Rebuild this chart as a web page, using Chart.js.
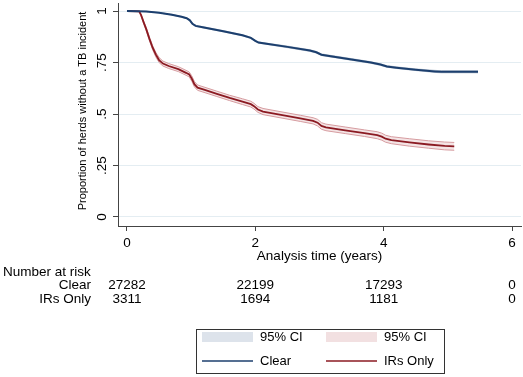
<!DOCTYPE html>
<html>
<head>
<meta charset="utf-8">
<script src="https://cdn.jsdelivr.net/npm/chart.js@4/dist/chart.umd.min.js"></script>
<style>
  html, body { margin: 0; padding: 0; background: #fff; }
  canvas { display: block; }
</style>
</head>
<body>
<canvas id="kmChart" width="523" height="377"></canvas>
<script>
// Kaplan-Meier estimates
const clearTime = [0, 0.3, 0.5, 0.7, 0.85, 0.93, 0.98, 1.02, 1.07, 1.2, 1.5, 1.8, 1.93, 2.0, 2.05, 2.2, 2.5, 2.85, 2.95, 3.03, 3.15, 3.5, 3.8, 3.95, 4.05, 4.2, 4.5, 4.8, 4.9, 5.47];
const clearSurv = [1, 0.998, 0.992, 0.982, 0.972, 0.965, 0.955, 0.938, 0.928, 0.92, 0.902, 0.882, 0.87, 0.855, 0.847, 0.84, 0.826, 0.808, 0.8, 0.788, 0.782, 0.765, 0.75, 0.74, 0.731, 0.725, 0.715, 0.707, 0.705, 0.705];
const clearHi = [1, 0.999, 0.993, 0.984, 0.974, 0.967, 0.958, 0.941, 0.931, 0.923, 0.905, 0.885, 0.873, 0.858, 0.85, 0.843, 0.83, 0.812, 0.804, 0.792, 0.786, 0.769, 0.754, 0.744, 0.735, 0.729, 0.719, 0.712, 0.71, 0.71];
const clearLo = [1, 0.997, 0.991, 0.98, 0.97, 0.963, 0.952, 0.935, 0.925, 0.917, 0.899, 0.879, 0.867, 0.852, 0.844, 0.837, 0.822, 0.804, 0.796, 0.784, 0.778, 0.761, 0.746, 0.736, 0.727, 0.721, 0.711, 0.702, 0.7, 0.7];

const irTime = [0, 0.19, 0.22, 0.26, 0.3, 0.35, 0.4, 0.45, 0.5, 0.56, 0.65, 0.8, 0.92, 0.97, 1.01, 1.05, 1.1, 1.2, 1.4, 1.6, 1.8, 1.93, 1.98, 2.04, 2.12, 2.4, 2.7, 2.9, 2.97, 3.03, 3.1, 3.4, 3.7, 3.9, 3.97, 4.03, 4.12, 4.4, 4.7, 4.95, 5.1];
const irSurv = [1, 0.998, 0.98, 0.945, 0.912, 0.865, 0.822, 0.788, 0.762, 0.745, 0.733, 0.718, 0.7, 0.692, 0.672, 0.645, 0.628, 0.618, 0.598, 0.578, 0.56, 0.548, 0.538, 0.522, 0.512, 0.496, 0.479, 0.467, 0.458, 0.442, 0.435, 0.421, 0.407, 0.397, 0.39, 0.38, 0.373, 0.362, 0.352, 0.345, 0.343];
const irHi = [1, 0.998, 0.984, 0.951, 0.92, 0.874, 0.832, 0.799, 0.774, 0.757, 0.745, 0.73, 0.712, 0.704, 0.685, 0.658, 0.641, 0.631, 0.611, 0.591, 0.574, 0.562, 0.552, 0.536, 0.527, 0.511, 0.494, 0.482, 0.474, 0.458, 0.451, 0.437, 0.423, 0.414, 0.407, 0.397, 0.39, 0.38, 0.37, 0.364, 0.362];
const irLo = [1, 0.998, 0.976, 0.939, 0.904, 0.856, 0.812, 0.777, 0.75, 0.733, 0.721, 0.706, 0.688, 0.68, 0.659, 0.632, 0.615, 0.605, 0.585, 0.565, 0.546, 0.534, 0.524, 0.508, 0.497, 0.481, 0.464, 0.452, 0.442, 0.426, 0.419, 0.405, 0.391, 0.38, 0.373, 0.363, 0.356, 0.344, 0.334, 0.326, 0.324];

// axis ticks
const xTicks = [0, 2, 4, 6];
const yTicks = [0, 0.25, 0.5, 0.75, 1];
const yTickLabels = ['0', '.25', '.5', '.75', '1'];

// number at risk table
const riskTimes = [0, 2, 4, 6];
const riskGroups = ['Clear', 'IRs Only'];
const riskClear = [27282, 22199, 17293, 0];
const riskIR = [3311, 1694, 1181, 0];

const legendLabels = ['95% CI', '95% CI', 'Clear', 'IRs Only'];

const FONT = '"Liberation Sans", Arial, sans-serif';
const NAVY = '#1c3f6e';
const MAROON = '#8b1a22';

const pts = (xs, ys) => xs.map((x, i) => ({ x: x, y: ys[i] }));

// draws tick labels, titles, risk table and legend
const stataText = {
    id: 'stataText',
    afterDraw(chart) {
        const ctx = chart.ctx;
        const xs = chart.scales.x;
        const ys = chart.scales.y;
        const area = chart.chartArea;
        ctx.save();
        ctx.fillStyle = '#000';

        // y tick labels, rotated
        ctx.font = '13.5px ' + FONT;
        ctx.textAlign = 'center';
        ctx.textBaseline = 'middle';
        yTicks.forEach((v, i) => {
            ctx.save();
            ctx.translate(102, ys.getPixelForValue(v));
            ctx.rotate(-Math.PI / 2);
            ctx.fillText(yTickLabels[i], 0, 0);
            ctx.restore();
        });

        // y title
        ctx.save();
        ctx.font = '11px ' + FONT;
        ctx.translate(83, 111);
        ctx.rotate(-Math.PI / 2);
        ctx.fillText('Proportion of herds without a TB incident', 0, 0);
        ctx.restore();

        // x tick labels + title
        ctx.font = '13.5px ' + FONT;
        xTicks.forEach(v => ctx.fillText(String(v), xs.getPixelForValue(v), 243));
        ctx.fillText('Analysis time (years)', (area.left + area.right) / 2, 256);

        // number at risk
        ctx.textAlign = 'left';
        ctx.fillText('Number at risk', 3, 272);
        const rows = [riskClear, riskIR];
        rows.forEach((row, r) => {
            const y = 285 + r * 14;
            ctx.textAlign = 'right';
            ctx.fillText(riskGroups[r], 91, y);
            ctx.textAlign = 'center';
            row.forEach((n, i) => ctx.fillText(String(n), xs.getPixelForValue(riskTimes[i]), y));
        });

        // legend box
        ctx.strokeStyle = '#333';
        ctx.lineWidth = 1;
        ctx.strokeRect(196.5, 329.5, 248, 44);
        ctx.fillStyle = '#dde3eb';
        ctx.fillRect(202, 332, 51, 10);
        ctx.fillStyle = '#f2e0e1';
        ctx.fillRect(326, 332, 51, 10);
        ctx.lineWidth = 1.5;
        ctx.strokeStyle = NAVY;
        ctx.beginPath(); ctx.moveTo(202, 361); ctx.lineTo(253, 361); ctx.stroke();
        ctx.strokeStyle = MAROON;
        ctx.beginPath(); ctx.moveTo(326, 361); ctx.lineTo(377, 361); ctx.stroke();
        ctx.fillStyle = '#000';
        ctx.font = '13px ' + FONT;
        ctx.textAlign = 'left';
        ctx.fillText(legendLabels[0], 260, 337);
        ctx.fillText(legendLabels[1], 384, 337);
        ctx.fillText(legendLabels[2], 260, 361);
        ctx.fillText(legendLabels[3], 384, 361);

        ctx.restore();
    }
};

const ctx = document.getElementById('kmChart').getContext('2d');
const myChart = new Chart(ctx, {
    type: 'line',
    data: {
        datasets: [
            { data: pts(clearTime, clearHi), borderColor: '#a9b7c8', borderWidth: 0.8, pointRadius: 0, fill: false, order: 1 },
            { data: pts(clearTime, clearLo), borderColor: '#a9b7c8', borderWidth: 0.8, pointRadius: 0, fill: '-1', backgroundColor: '#d3dbe5', order: 1 },
            { data: pts(irTime, irHi), borderColor: '#d69ca0', borderWidth: 1, pointRadius: 0, fill: false, order: 1 },
            { data: pts(irTime, irLo), borderColor: '#d69ca0', borderWidth: 1, pointRadius: 0, fill: '-1', backgroundColor: '#f4e4e5', order: 1 },
            { data: pts(clearTime, clearSurv), borderColor: NAVY, borderWidth: 2, pointRadius: 0, fill: false, order: 0 },
            { data: pts(irTime, irSurv), borderColor: MAROON, borderWidth: 1.8, pointRadius: 0, fill: false, order: 0 }
        ]
    },
    options: {
        responsive: false,
        animation: false,
        devicePixelRatio: 1,
        layout: { padding: { left: 113, right: 2, top: 3, bottom: 146 } },
        plugins: { legend: { display: false }, tooltip: { enabled: false } },
        scales: {
            x: {
                type: 'linear',
                min: -0.14,
                max: 6.14,
                afterBuildTicks: s => { s.ticks = xTicks.map(v => ({ value: v })); },
                ticks: { display: false },
                grid: { color: 'transparent', tickColor: '#444', tickLength: 5 },
                border: { color: '#444', width: 1 }
            },
            y: {
                min: -0.0437,
                max: 1.039,
                afterBuildTicks: s => { s.ticks = yTicks.map(v => ({ value: v })); },
                ticks: { display: false },
                grid: { color: '#e4edf2', tickColor: '#444', tickLength: 5 },
                border: { color: '#444', width: 1 }
            }
        }
    },
    plugins: [stataText]
});
</script>
</body>
</html>
